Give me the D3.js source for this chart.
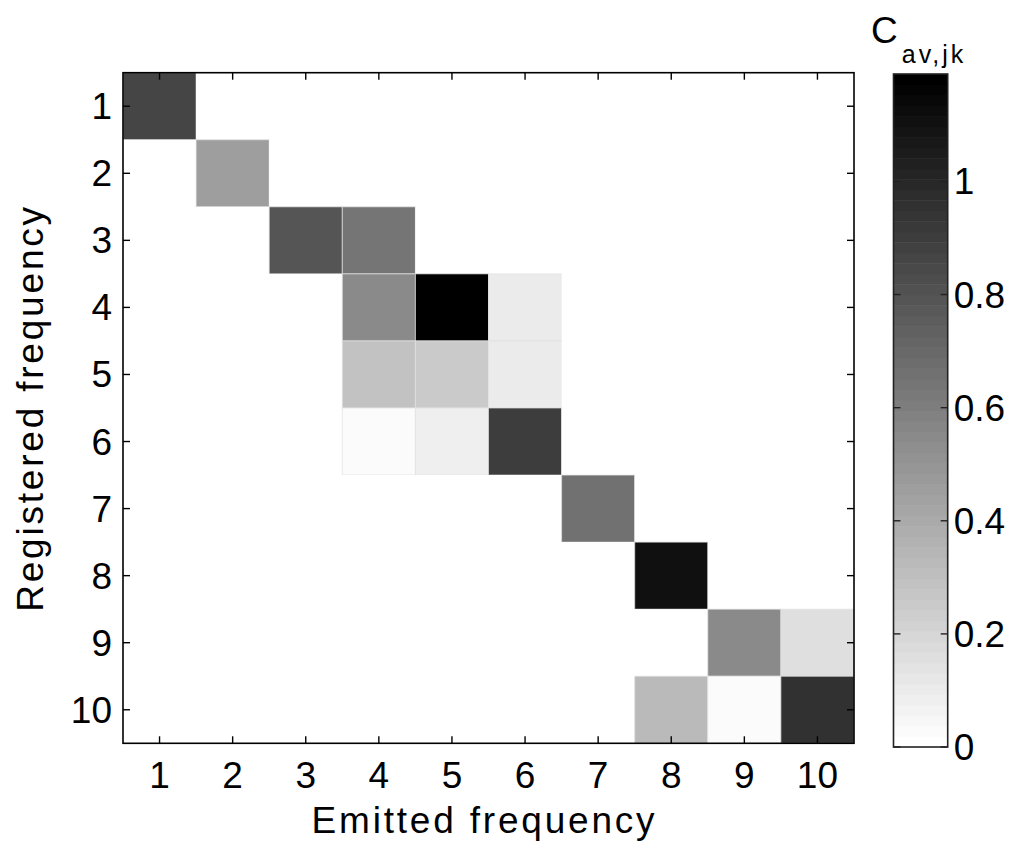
<!DOCTYPE html>
<html>
<head>
<meta charset="utf-8">
<script src="https://cdn.jsdelivr.net/npm/d3@7"></script>
<style>
  html, body { margin: 0; padding: 0; background: #fff; }
  svg { display: block; }
  text { font-family: "Liberation Sans", Arial, Helvetica, sans-serif; fill: #000; }
</style>
</head>
<body>
<svg id="chart" width="1019" height="846"></svg>
<script>
// ---- data ----
const emitted = [1, 2, 3, 4, 5, 6, 7, 8, 9, 10];
const registered = [1, 2, 3, 4, 5, 6, 7, 8, 9, 10];
// values[r][e] : registered frequency r (row), emitted frequency e (column)
const values = [
  [0.86, 0,    0,    0,     0,     0,     0,     0,     0,     0    ],
  [0,    0.457,0,    0,     0,     0,     0,     0,     0,     0    ],
  [0,    0,    0.793,0.635, 0,     0,     0,     0,     0,     0    ],
  [0,    0,    0,    0.555, 1.19,  0.103, 0,     0,     0,     0    ],
  [0,    0,    0,    0.294, 0.247, 0.103, 0,     0,     0,     0    ],
  [0,    0,    0,    0.023, 0.084, 0.90,  0,     0,     0,     0    ],
  [0,    0,    0,    0,     0,     0,     0.663, 0,     0,     0    ],
  [0,    0,    0,    0,     0,     0,     0,     1.106, 0,     0    ],
  [0,    0,    0,    0,     0,     0,     0,     0,     0.551, 0.154],
  [0,    0,    0,    0,     0,     0,     0,     0.317, 0.028, 0.961]
];
const colorbarTicks = [0, 0.2, 0.4, 0.6, 0.8, 1];
const colorbarMax = 1.19;
const nLevels = 64;

// ---- layout ----
const svg = d3.select("#chart");
const plot = { left: 123, right: 854, top: 72.7, bottom: 743.3 };
const cbar = { left: 893.5, right: 947.7, top: 74, bottom: 747 };
const fontSize = 37;

const x = d3.scaleBand().domain(emitted).range([plot.left, plot.right]).padding(0);
const y = d3.scaleBand().domain(registered).range([plot.top, plot.bottom]).padding(0);

// flipud(gray) with 64 levels
const levels = d3.range(nLevels).map(i => {
  const g = Math.round(255 * (1 - i / (nLevels - 1)));
  return d3.rgb(g, g, g).formatHex();
});
const color = d3.scaleQuantize().domain([0, colorbarMax]).range(levels);

// ---- cells ----
const cells = [];
values.forEach((row, ri) => row.forEach((v, ei) => cells.push({ r: registered[ri], e: emitted[ei], v })));

svg.append("g").selectAll("rect").data(cells).join("rect")
  .attr("x", d => x(d.e))
  .attr("y", d => y(d.r))
  .attr("width", x.bandwidth())
  .attr("height", y.bandwidth())
  .attr("fill", d => color(d.v))
  .attr("stroke", d => d.v > 0 ? "rgba(225,225,225,0.7)" : "none")
  .attr("stroke-width", 1);

// ---- axes (MATLAB style: inward ticks, boxed) ----
const tickLen = 7;
const axisColor = "#000";
const g = svg.append("g");

// box
g.append("rect")
  .attr("x", plot.left).attr("y", plot.top)
  .attr("width", plot.right - plot.left).attr("height", plot.bottom - plot.top)
  .attr("fill", "none").attr("stroke", axisColor).attr("stroke-width", 1.6);

// x ticks (bottom & top)
emitted.forEach(e => {
  const cx = x(e) + x.bandwidth() / 2;
  g.append("line").attr("x1", cx).attr("x2", cx)
    .attr("y1", plot.bottom).attr("y2", plot.bottom - tickLen)
    .attr("stroke", axisColor).attr("stroke-width", 1.4);
  g.append("line").attr("x1", cx).attr("x2", cx)
    .attr("y1", plot.top).attr("y2", plot.top + tickLen)
    .attr("stroke", axisColor).attr("stroke-width", 1.4);
  g.append("text").attr("x", cx).attr("y", 788)
    .attr("text-anchor", "middle").attr("font-size", fontSize)
    .text(e);
});

// y ticks (left & right)
registered.forEach(r => {
  const cy = y(r) + y.bandwidth() / 2;
  g.append("line").attr("x1", plot.left).attr("x2", plot.left + tickLen)
    .attr("y1", cy).attr("y2", cy)
    .attr("stroke", axisColor).attr("stroke-width", 1.4);
  g.append("line").attr("x1", plot.right).attr("x2", plot.right - tickLen)
    .attr("y1", cy).attr("y2", cy)
    .attr("stroke", axisColor).attr("stroke-width", 1.4);
  g.append("text").attr("x", 112).attr("y", cy + 13)
    .attr("text-anchor", "end").attr("font-size", fontSize)
    .text(r);
});

// axis labels
g.append("text")
  .attr("x", (plot.left + plot.right) / 2 - 4).attr("y", 833)
  .attr("text-anchor", "middle").attr("font-size", fontSize)
  .attr("letter-spacing", 2.8)
  .text("Emitted frequency");

g.append("text")
  .attr("transform", `translate(43, ${(plot.top + plot.bottom) / 2}) rotate(-90)`)
  .attr("text-anchor", "middle").attr("font-size", fontSize)
  .attr("letter-spacing", 2.8)
  .text("Registered frequency");

// ---- colorbar ----
const cy = d3.scaleLinear().domain([0, colorbarMax]).range([cbar.bottom, cbar.top]);
const cb = svg.append("g");
const step = colorbarMax / nLevels;
cb.selectAll("rect.band").data(levels).join("rect")
  .attr("class", "band")
  .attr("x", cbar.left)
  .attr("y", (d, i) => cy((i + 1) * step))
  .attr("width", cbar.right - cbar.left)
  .attr("height", (d, i) => cy(i * step) - cy((i + 1) * step) + 0.5)
  .attr("fill", d => d);

cb.append("rect")
  .attr("x", cbar.left).attr("y", cbar.top)
  .attr("width", cbar.right - cbar.left).attr("height", cbar.bottom - cbar.top)
  .attr("fill", "none").attr("stroke", "#222").attr("stroke-width", 1.6);

colorbarTicks.forEach(t => {
  const ty = cy(t);
  cb.append("line").attr("x1", cbar.left).attr("x2", cbar.left + tickLen)
    .attr("y1", ty).attr("y2", ty).attr("stroke", "#222").attr("stroke-width", 1.4);
  cb.append("line").attr("x1", cbar.right).attr("x2", cbar.right - tickLen)
    .attr("y1", ty).attr("y2", ty).attr("stroke", "#222").attr("stroke-width", 1.4);
  cb.append("text").attr("x", cbar.right + 6).attr("y", ty + 13)
    .attr("text-anchor", "start").attr("font-size", fontSize)
    .text(d3.format("~g")(t));
});

// colorbar title C_{av,jk}
const title = cb.append("text").attr("x", 871).attr("y", 43).attr("font-size", fontSize);
title.append("tspan").text("C");
title.append("tspan").attr("font-size", 25).attr("dy", 20).attr("dx", 4)
  .attr("letter-spacing", 3).text("av,jk");
</script>
</body>
</html>
